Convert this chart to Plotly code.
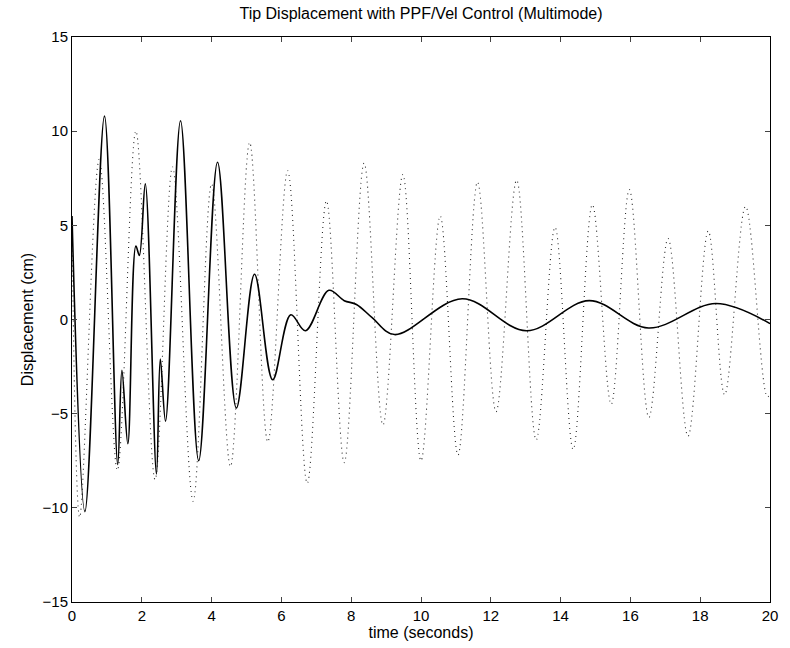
import plotly.graph_objects as go

# Controlled response (solid) - read extrema / key points
t_ctrl = [0, 0.37, 0.93, 1.31, 1.43, 1.60, 1.83, 1.93, 2.10, 2.42, 2.53, 2.68,
          3.11, 3.63, 4.17, 4.71, 5.23, 5.75, 6.27, 6.69, 7.36, 7.80, 8.15, 8.60,
          9.24, 11.18, 13.02, 14.82, 16.52, 18.45, 20.0]
y_ctrl = [5.5, -10.2, 10.8, -7.7, -2.7, -6.6, 3.9, 3.4, 7.2, -8.2, -2.1, -5.4,
          10.55, -7.5, 8.35, -4.7, 2.4, -3.2, 0.25, -0.6, 1.55, 1.0, 0.8, 0.1,
          -0.8, 1.1, -0.6, 1.0, -0.45, 0.85, -0.22]

# Uncontrolled response (dotted) - read extrema
t_open = [0, 0.22, 0.78, 1.30, 1.83, 2.38, 2.88, 3.47, 4.00, 4.54, 5.09, 5.61,
          6.18, 6.74, 7.29, 7.80, 8.37, 8.91, 9.48, 10.00, 10.55, 11.06, 11.62,
          12.15, 12.74, 13.30, 13.84, 14.36, 14.91, 15.45, 15.97, 16.53, 17.08,
          17.65, 18.23, 18.70, 19.30, 19.92, 20.0]
y_open = [5.0, -10.5, 8.5, -8.0, 10.0, -8.5, 8.1, -9.65, 7.2, -7.8, 9.4, -6.5,
          7.9, -8.7, 6.3, -7.6, 8.3, -5.6, 7.7, -7.5, 5.5, -7.2, 7.3,
          -4.9, 7.4, -6.4, 4.9, -6.9, 6.1, -4.5, 6.9, -5.2, 4.3,
          -6.2, 4.7, -4.0, 6.0, -4.1, -4.0]

x_ticks = list(range(0, 21, 2))
y_ticks = list(range(-15, 16, 5))

fig = go.Figure()
fig.add_trace(go.Scatter(x=t_open, y=y_open, mode="lines",
                         line=dict(color="#2a2a2a", width=1.1, dash="1px,4px",
                                   shape="spline", smoothing=1.0),
                         showlegend=False))
fig.add_trace(go.Scatter(x=t_ctrl, y=y_ctrl, mode="lines",
                         line=dict(color="black", width=1.6,
                                   shape="spline", smoothing=1.0),
                         showlegend=False))

font = dict(family="Liberation Sans, Arial, Helvetica, sans-serif", size=15, color="black")
fig.update_layout(
    width=790, height=648,
    margin=dict(l=72, r=12, t=37, b=46),
    paper_bgcolor="white", plot_bgcolor="white",
    font=font,
    title=dict(text="Tip Displacement with PPF/Vel Control (Multimode)",
               x=0.5, xref="paper", xanchor="center",
               y=1 - 13 / 648, yref="container", yanchor="middle",
               font=dict(size=16)),
    xaxis=dict(range=[0, 20], tickvals=x_ticks, ticks="inside", ticklen=5,
               showline=True, linecolor="black", linewidth=1, mirror="ticks",
               showgrid=False, zeroline=False, tickfont=dict(size=15),
               title=dict(text="time (seconds)", standoff=1, font=dict(size=16))),
    yaxis=dict(range=[-15, 15], tickvals=y_ticks, ticks="inside", ticklen=5,
               showline=True, linecolor="black", linewidth=1, mirror="ticks",
               showgrid=False, zeroline=False, tickfont=dict(size=15),
               title=dict(text="Displacement (cm)", standoff=4, font=dict(size=16))),
)

fig.write_html("out.html")
